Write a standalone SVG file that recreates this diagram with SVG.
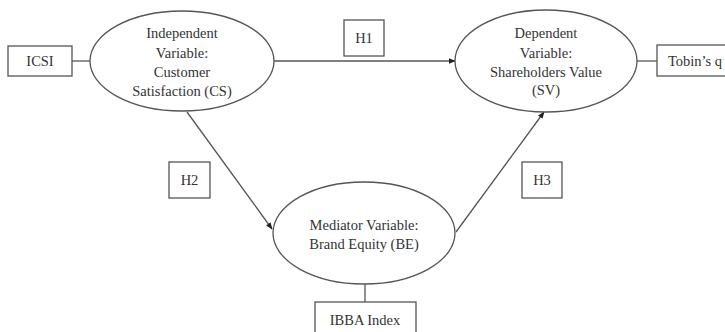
<svg xmlns="http://www.w3.org/2000/svg" width="725" height="332" viewBox="0 0 725 332">
<defs>
<style>
.shape{fill:#fff;stroke:#555;stroke-width:1.3}
.ln{fill:none;stroke:#555;stroke-width:1.3}
.t{font-family:"Liberation Serif","Times New Roman",serif;font-size:14.5px;fill:#333;text-anchor:middle}
</style>
<marker id="ah" viewBox="0 0 10 10" refX="9" refY="5" markerWidth="7" markerHeight="7" markerUnits="userSpaceOnUse" orient="auto">
<path d="M0,1 L10,5 L0,9 z" fill="#222"/>
</marker>
</defs>
<rect width="725" height="332" fill="#fff"/>
<g id="connectors">
<line class="ln" x1="72" y1="61" x2="90" y2="61"/>
<line class="ln" x1="274" y1="61" x2="455" y2="61" marker-end="url(#ah)"/>
<line class="ln" x1="637" y1="61" x2="657" y2="61"/>
<line class="ln" x1="187" y1="112" x2="272" y2="229" marker-end="url(#ah)"/>
<line class="ln" x1="456" y1="232" x2="544" y2="112" marker-end="url(#ah)"/>
<line class="ln" x1="365" y1="284" x2="365" y2="302"/>
</g>
<g id="icsi">
<rect class="shape" x="8" y="46" width="64" height="30"/>
<text class="t" x="40" y="66">ICSI</text>
</g>
<g id="cs">
<ellipse class="shape" cx="182" cy="61" rx="92" ry="50"/>
<text class="t" x="182" y="38">Independent</text>
<text class="t" x="182" y="58">Variable:</text>
<text class="t" x="182" y="77">Customer</text>
<text class="t" x="182" y="96">Satisfaction (CS)</text>
</g>
<g id="h1">
<rect class="shape" x="344" y="20" width="40" height="36"/>
<text class="t" x="364" y="43">H1</text>
</g>
<g id="sv">
<ellipse class="shape" cx="546" cy="61" rx="91" ry="51"/>
<text class="t" x="546" y="38">Dependent</text>
<text class="t" x="546" y="58">Variable:</text>
<text class="t" x="546" y="77">Shareholders Value</text>
<text class="t" x="546" y="95">(SV)</text>
</g>
<g id="tobin">
<rect class="shape" x="657" y="45" width="75" height="31"/>
<text class="t" x="695" y="66">Tobin’s q</text>
</g>
<g id="h2">
<rect class="shape" x="169" y="162" width="41" height="36"/>
<text class="t" x="189.5" y="185">H2</text>
</g>
<g id="h3">
<rect class="shape" x="522" y="162" width="40" height="36"/>
<text class="t" x="542" y="185">H3</text>
</g>
<g id="be">
<ellipse class="shape" cx="364" cy="233" rx="91" ry="51"/>
<text class="t" x="364" y="230">Mediator Variable:</text>
<text class="t" x="364" y="249">Brand Equity (BE)</text>
</g>
<g id="ibba">
<rect class="shape" x="315" y="302" width="101" height="40"/>
<text class="t" x="365" y="325">IBBA Index</text>
</g>
</svg>
